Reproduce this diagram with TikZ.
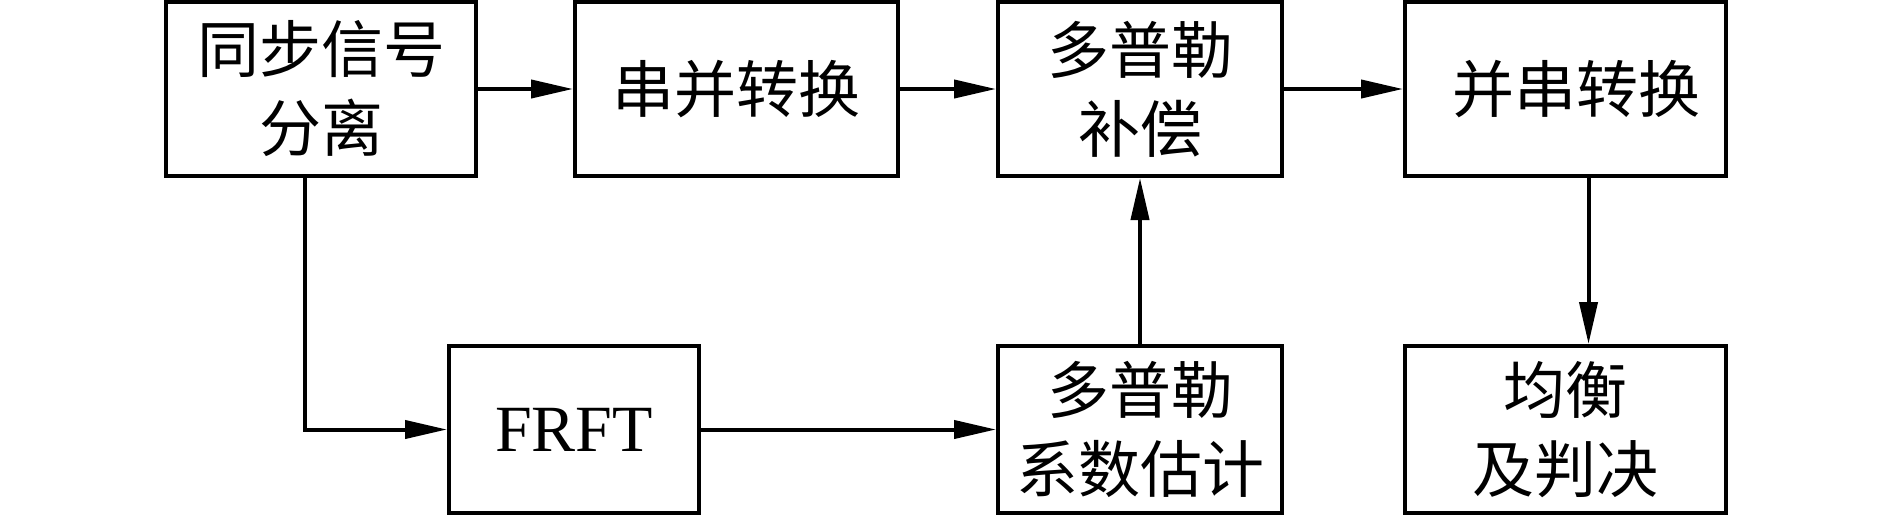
\documentclass[tikz,border=0pt]{standalone}
\usepackage{fontspec}
\setmainfont{Liberation Serif}
\newfontfamily\cjk{Noto Sans CJK SC}
\usetikzlibrary{arrows.meta}
\begin{document}
\begin{tikzpicture}[x=0.5pt,y=-0.5pt,
  box/.style={draw,line width=2pt,rectangle,inner sep=0pt,align=center,
    font=\cjk\fontsize{31pt}{39.5pt}\selectfont},
  conn/.style={line width=2pt,-{Triangle[length=21pt,width=9pt]}}]
\useasboundingbox (0,0) rectangle (1889,515);
\node[box,minimum width=155pt,minimum height=87pt] (A) at (321,89) {同步信号\\分离};
\node[box,minimum width=161.5pt,minimum height=87pt] (B) at (736.5,89) {串并转换};
\node[box,minimum width=142pt,minimum height=87pt] (C) at (1140,89) {多普勒\\补偿};
\node[box,minimum width=160.5pt,minimum height=87pt] (D) at (1565.5,89) {\hspace*{11pt}并串转换};
\node[box,minimum width=125pt,minimum height=83.5pt,font=\fontsize{33pt}{39.5pt}\selectfont] (E) at (574,429.5) {FRFT};
\node[box,minimum width=142pt,minimum height=83.5pt] (F) at (1140,429.5) {多普勒\\系数估计};
\node[box,minimum width=160.5pt,minimum height=83.5pt] (G) at (1565.5,429.5) {均衡\\及判决};
\draw[conn] (A.east) -- (B.west);
\draw[conn] (B.east) -- (C.west);
\draw[conn] (C.east) -- (D.west);
\draw[conn] ([xshift=-8pt]A.south) |- (E.west);
\draw[conn] (E.east) -- (F.west);
\draw[conn] (F.north) -- (C.south);
\draw[conn] ([xshift=11.5pt]D.south) -- ([xshift=11.5pt]G.north);
\end{tikzpicture}
\end{document}
